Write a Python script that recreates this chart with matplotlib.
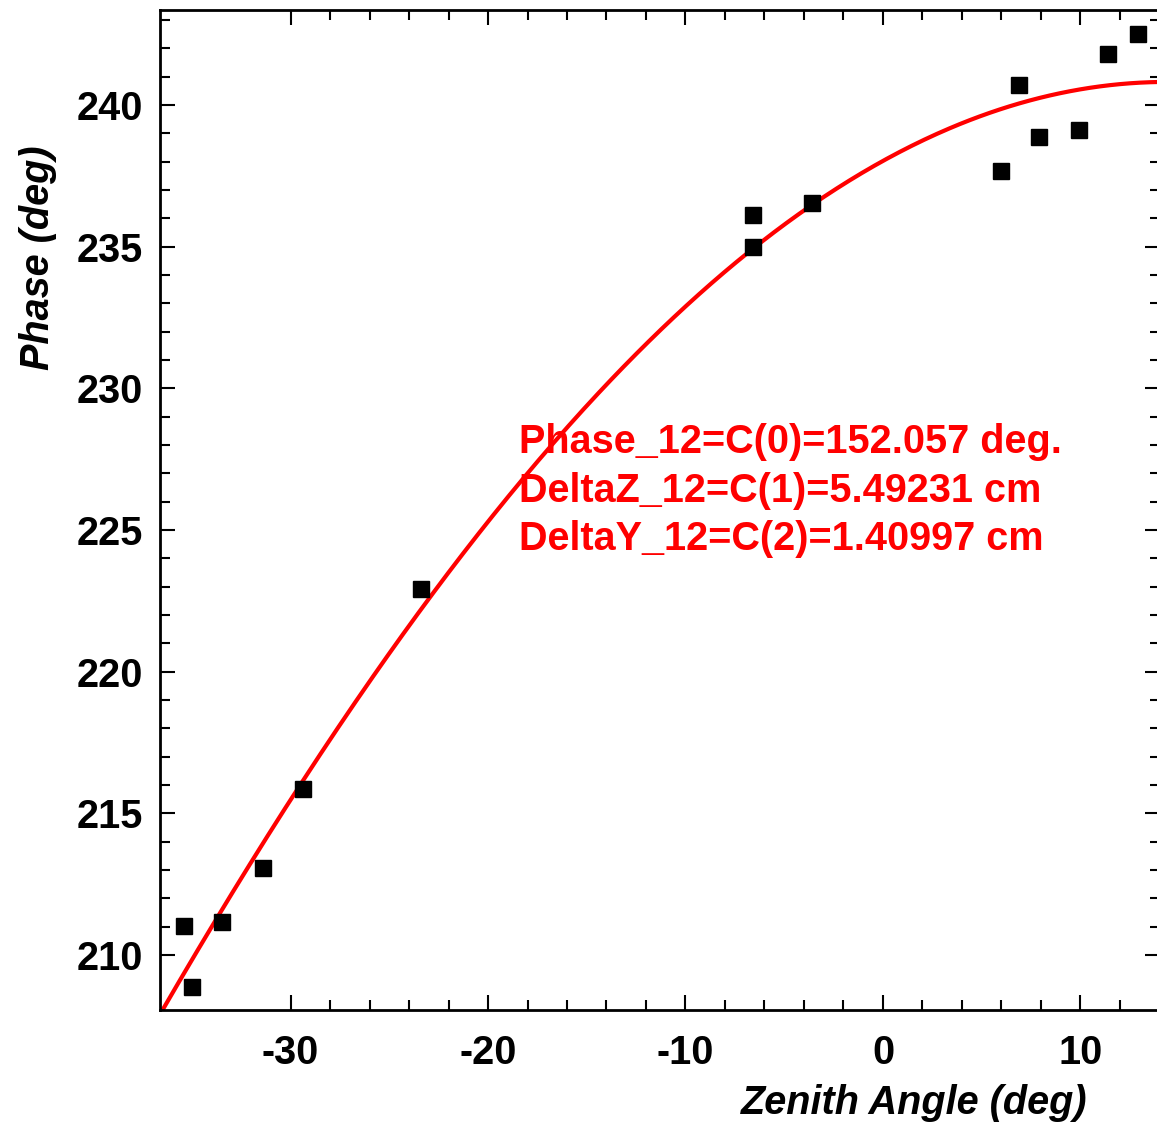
import numpy as np
import matplotlib
matplotlib.use("Agg")
import matplotlib.pyplot as plt
from matplotlib.ticker import MultipleLocator, FixedLocator

# measured phase vs zenith angle
zenith = [-35.39, -34.97, -33.49, -31.38, -29.35, -23.39, -6.57, -6.57,
          -3.59, 5.96, 6.90, 7.91, 9.94, 11.41, 12.93]
phase = [211.02, 208.88, 211.16, 213.08, 215.87, 222.92, 236.12, 235.00,
         236.55, 237.68, 240.71, 238.85, 239.12, 241.80, 242.51]

# fit coefficients shown on the plot
c0 = 152.057      # deg
delta_z = 5.49231  # cm
delta_y = 1.40997  # cm
wavelength = 23.0  # cm

fit_lines = ["Phase_12=C(0)=152.057 deg.",
             "DeltaZ_12=C(1)=5.49231 cm",
             "DeltaY_12=C(2)=1.40997 cm"]

plt.rcParams['font.family'] = ['Liberation Sans', 'DejaVu Sans']
plt.rcParams['font.weight'] = 'bold'
plt.rcParams['axes.unicode_minus'] = False

fs = 28.5

fig = plt.figure(figsize=(11.57, 11.23), dpi=100)
ax = fig.add_axes([0.1383, 0.1002, 0.8643, 0.8909])

xmin, xmax = -36.61, 14.03
th = np.linspace(xmin, xmax, 400)
rad = np.radians(th)
fit = c0 + 360.0 / wavelength * (delta_z * np.cos(rad) + delta_y * np.sin(rad))

ax.plot(th, fit, color='red', linewidth=3.0, zorder=2)
ax.plot(zenith, phase, 's', color='black', markersize=11.5, zorder=3)

ax.set_xlim(xmin, xmax)
ax.set_ylim(208.04, 243.35)

# minor ticks only start at the first major tick
ax.xaxis.set_major_locator(MultipleLocator(10))
ax.xaxis.set_minor_locator(FixedLocator(np.arange(-30, 15, 2)))
ax.yaxis.set_major_locator(MultipleLocator(5))
ax.yaxis.set_minor_locator(FixedLocator(np.arange(210, 244, 1)))

ax.tick_params(which='both', direction='in', top=True, right=True, width=1.5,
               labelsize=fs)
ax.tick_params(which='major', length=11)
ax.tick_params(which='minor', length=7)
ax.tick_params(axis='x', which='major', pad=17)
ax.tick_params(axis='y', which='major', pad=12)
for lab in ax.get_xticklabels() + ax.get_yticklabels():
    lab.set_fontweight('bold')
for sp in ax.spines.values():
    sp.set_linewidth(2.0)

ax.set_xlabel("Zenith Angle (deg)", fontsize=fs, fontweight='bold',
              fontstyle='italic', ha='right')
ax.xaxis.set_label_coords(0.928, -0.073)
ax.set_ylabel("Phase (deg)", fontsize=fs, fontweight='bold',
              fontstyle='italic', ha='right', va='center')
ax.yaxis.set_label_coords(-0.122, 0.865)

for i, line in enumerate(fit_lines):
    ax.text(0.3585, 0.557 - i * 0.0485, line, transform=ax.transAxes,
            color='red', fontsize=fs, fontweight='bold', va='baseline')

fig.savefig("out.png", dpi=100)
